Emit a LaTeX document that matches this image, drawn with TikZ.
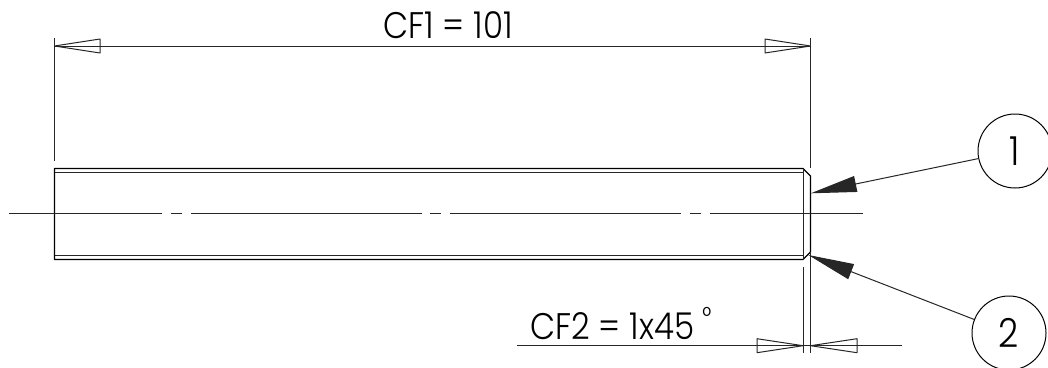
\documentclass[tikz,border=0pt]{standalone}
\usepackage{fontspec}
\setmainfont{Poppins Light}[FakeStretch=.88]
\usetikzlibrary{arrows.meta}
\tikzset{
	thin line/.style={line width=1pt, black!85},
	body line/.style={line width=1.3pt, black},
	callout/.style={circle, draw, line width=1pt, minimum size=74pt, inner sep=0pt, font=\fontsize{40}{42}\selectfont},
	dim label/.style={anchor=base west, inner sep=0pt, font=\fontsize{37}{39}\selectfont},
	leader/.style={thin line, -{Triangle[length=46pt,width=16pt]}}
}
\begin{document}
\begin{tikzpicture}[x=1pt, y=-1pt, line join=round]
	\useasboundingbox (0,0) rectangle (1048,367);
	% screw body
	\draw[body line](54.5,168.5)--(803,168.5)--(810.5,176)--(810.5,252)--(803,259.5)--(54.5,259.5)--cycle;
	\draw[thin line](54.5,172.8)--(803,172.8);
	\draw[thin line](54.5,255)--(803,255);
	\draw[thin line](803,168.5)--(803,259.5);
	% centre line
	\foreach \a/\b in {9/162,171/182,191/422,430/441,450/681,690/701,710/863}
		\draw[thin line](\a,213.7)--(\b,213.7);
	% extension lines
	\coordinate (e1) at (54.5,38);
	\coordinate (e2) at (54.5,161);
	\coordinate (e3) at (810.5,38);
	\coordinate (e4) at (810.5,353);
	\coordinate (e5) at (803,267);
	\coordinate (e6) at (803,353);
	\draw[thin line](e1)--(e2);
	\draw[thin line](e3)--(810.5,168);
	\draw[thin line](810.5,252)--(e4);
	\draw[thin line](e5)--(e6);
	% dimension CF1
	\coordinate (d1) at (54.5,46);
	\coordinate (d2) at (810.5,46);
	\draw[thin line](d1)--(d2);
	\foreach \t/\b in {54.5/100,810.5/765}
		\draw[thin line](\t,46)--(\b,39)--(\b,53)--cycle;
	\node[dim label] (cf1) at (383,38) {CF1 = 101};
	% dimension CF2
	\coordinate (d3) at (517,345.7);
	\coordinate (d4) at (902,345.7);
	\draw[thin line](d3)--(d4);
	\foreach \t/\b in {803/757,810.5/857}
		\draw[thin line](\t,345.7)--(\b,338.7)--(\b,352.7)--cycle;
	\node[dim label] (cf2) at (530,339) {CF2 = 1x45\hspace{8pt}\raisebox{14pt}{\fontsize{26}{26}\selectfont °}};
	% balloons
	\node[callout] (b1) at (1015,151) {1};
	\node[callout] (b2) at (1009,333) {2};
	\coordinate (t1) at (810.7,193.3);
	\coordinate (t2) at (808.3,255);
	\draw[leader](b1)--(t1);
	\draw[leader](b2)--(t2);
\end{tikzpicture}
\end{document}
